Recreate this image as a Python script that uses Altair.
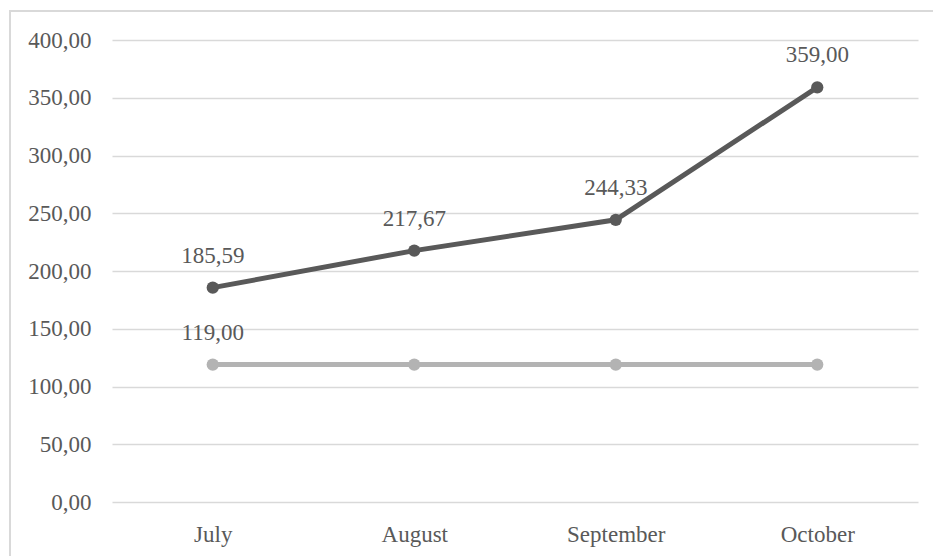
import altair as alt
import pandas as pd

months = ["July", "August", "September", "October"]
actual = [185.59, 217.67, 244.33, 359.00]
baseline = [119.00, 119.00, 119.00, 119.00]
baseline_show = [True, False, False, False]

df_a = pd.DataFrame({"month": months, "value": actual, "show": [True] * 4})
df_b = pd.DataFrame({"month": months, "value": baseline, "show": baseline_show})

FONT = "Times New Roman"
TXT = "#595959"
FS = 23

x = alt.X("month:N", sort=months, title=None,
          scale=alt.Scale(type="point", padding=0.5),
          axis=alt.Axis(labelAngle=0, domain=False, ticks=False, grid=False,
                        labelPadding=21, labelFontSize=FS, labelColor=TXT, labelFont=FONT))
y = alt.Y("value:Q", title=None,
          scale=alt.Scale(domain=[0, 400], nice=False, zero=True),
          axis=alt.Axis(values=list(range(0, 401, 50)), domain=False, ticks=False,
                        labelExpr="replace(format(datum.value, '.2f'), '.', ',')",
                        labelPadding=21, labelFontSize=FS, labelColor=TXT, labelFont=FONT,
                        gridColor="#D9D9D9", gridWidth=1.5))


def series(df, color):
    base = alt.Chart(df).encode(x=x, y=y)
    line = base.mark_line(color=color, strokeWidth=5)
    pts = base.mark_circle(color=color, size=150, opacity=1)
    txt = base.transform_filter("datum.show").transform_calculate(
        lab="replace(format(datum.value, '.2f'), '.', ',')"
    ).mark_text(dy=-32, fontSize=FS, font=FONT, color=TXT).encode(text="lab:N")
    return [line, pts, txt]


border = alt.Chart(pd.DataFrame({"a": [0]})).mark_rect(
    filled=False, stroke="#D9D9D9", strokeWidth=2, clip=False
).encode(x=alt.value(-102), x2=alt.value(840), y=alt.value(-29), y2=alt.value(600))

chart = alt.layer(
    border, *series(df_b, "#B3B3B3"), *series(df_a, "#595959")
).properties(
    width=806, height=462,
    padding={"left": 112, "top": 40, "right": 15, "bottom": 54},
    autosize=alt.AutoSizeParams(type="none"),
).configure(font=FONT).configure_view(stroke=None)

chart.save("out.html", embed_options={"renderer": "svg", "actions": False})
